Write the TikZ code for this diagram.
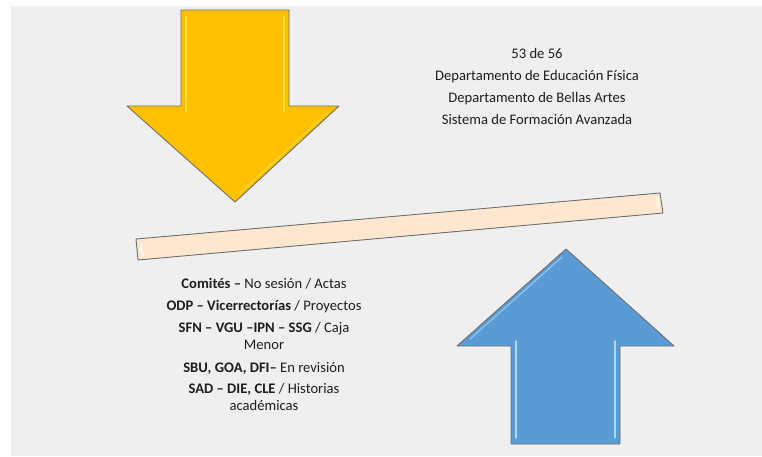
\documentclass[tikz,border=0pt]{standalone}
\usepackage{fontspec}
\setmainfont{Carlito}
\usepackage{xcolor}
\usetikzlibrary{calc}

\definecolor{slidegray}{HTML}{EFEFEF}
\definecolor{arrowyellow}{HTML}{FFC000}
\definecolor{yellowshine}{HTML}{FFDF40}
\definecolor{arrowblue}{HTML}{5B9BD5}
\definecolor{blueshine}{HTML}{A9DBFA}
\definecolor{barpeach}{HTML}{FDE8CF}
\definecolor{edgegray}{HTML}{6E6E6E}
\definecolor{textgray}{HTML}{1E1E1E}

\tikzset{
	shapeedge/.style = {draw = edgegray, line width = 0.9pt, line join = round},
	shine/.style = {line width = 1.4pt, line cap = round},
	listtext/.style = {align = center, text = textgray, font = \fontsize{14.6}{17}\selectfont, inner sep = 0pt}
}

\begin{document}
\begin{tikzpicture}[x = 1pt, y = -1pt]
	\useasboundingbox (0,0) rectangle (762,456);
	\fill [white] (0,0) rectangle (762,456);
	\fill [slidegray] (11,6) rectangle (762,456);

	% arrow from above
	\begin{scope}
		\filldraw [shapeedge, fill = arrowyellow] (181,10) -- (289,10) -- (289,106) -- (339,106) -- (235,202) -- (127,106) -- (181,106) -- cycle;
		\draw [shine, yellowshine] (186,17) -- (186,111);
		\draw [shine, yellowshine] (284,17) -- (284,111);
		\draw [shine, yellowshine!60!arrowyellow] (239,194) -- (328,112);
	\end{scope}

	% arrow from below
	\begin{scope}
		\filldraw [shapeedge, fill = arrowblue] (566,249) -- (674,346) -- (620,346) -- (620,444) -- (511,444) -- (511,346) -- (457,346) -- cycle;
		\draw [shine, blueshine] (516,341) -- (516,438);
		\draw [shine, blueshine] (615,341) -- (615,438);
		\draw [shine, blueshine!60!arrowblue] (562,257) -- (470,339);
	\end{scope}

	% tilted bar
	\begin{scope}
		\filldraw [shapeedge, fill = barpeach] (136,239) -- (660,193) -- (663,213) -- (138,260) -- cycle;
		\fill [white] (142,243) .. controls (139,248) and (140,254) .. (144,257) .. controls (142,252) and (142,247) .. cycle;
		\fill [white] (656,197) .. controls (660,201) and (660,206) .. (657,210) .. controls (658,205) and (658,201) .. cycle;
	\end{scope}

	\node [listtext, anchor = north] (units) at (537,48.5)
		{53 de 56\\[5pt]
		 Departamento de Educación Física\\[5pt]
		 Departamento de Bellas Artes\\[4.5pt]
		 Sistema de Formación Avanzada};

	\node [listtext, anchor = north] (pending) at (264,278)
		{\textbf{Comités –} No sesión / Actas\\[5.5pt]
		 \textbf{ODP – Vicerrectorías} / Proyectos\\[5pt]
		 \textbf{SFN – VGU –IPN – SSG} / Caja\\
		 Menor\\[5.5pt]
		 \textbf{SBU, GOA, DFI–} En revisión\\[4.5pt]
		 \textbf{SAD – DIE, CLE} / Historias\\
		 académicas};
\end{tikzpicture}
\end{document}
